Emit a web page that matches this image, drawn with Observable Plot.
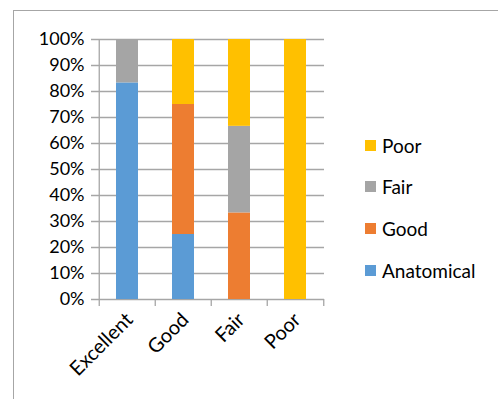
<!DOCTYPE html>
<html>
<head>
<meta charset="utf-8">
<script src="https://cdn.jsdelivr.net/npm/d3@7"></script>
<script src="https://cdn.jsdelivr.net/npm/@observablehq/plot@0.6"></script>
<style>
  html, body { margin: 0; padding: 0; background: #fff; }
  #chart { position: relative; width: 498px; height: 399px; overflow: hidden; font-family: Lato, "Open Sans", sans-serif; }
  #chart .frame { position: absolute; left: 13px; top: 10px; right: -5px; bottom: -5px; border-top: 1.5px solid #a6a6a6; border-left: 1.5px solid #a6a6a6; }
  #chart svg { position: absolute; left: 0; top: 0; }
  #legend { position: absolute; left: 365px; top: 133px; }
  #legend .item { display: flex; align-items: center; height: 24px; margin-bottom: 17.7px; font-size: 19px; color: #000; }
  #legend .swatch { width: 11px; height: 11px; margin-right: 6px; }
</style>
</head>
<body>
<div id="chart"><div class="frame"></div></div>
<script>
// Outcome grades along the x axis
const grades = ["Excellent", "Good", "Fair", "Poor"];
// Share of each result within a grade (stacked to 100%)
const anatomical = [0.833, 0.25, 0, 0];
const good = [0, 0.5, 0.333, 0];
const fair = [0.167, 0, 0.333, 0];
const poor = [0, 0.25, 0.334, 1];
// Series names, bottom to top in each stack
const seriesNames = ["Anatomical", "Good", "Fair", "Poor"];
const seriesColors = ["#5B9BD5", "#ED7D31", "#A5A5A5", "#FFC000"];
// Y axis ticks
const yTicks = [0, 0.1, 0.2, 0.3, 0.4, 0.5, 0.6, 0.7, 0.8, 0.9, 1];

const seriesValues = [anatomical, good, fair, poor];
const rows = [];
seriesNames.forEach((s, i) => {
  grades.forEach((g, j) => rows.push({grade: g, series: s, value: seriesValues[i][j]}));
});

const W = 498, H = 399;
const mLeft = 98, mRight = 174, mTop = 39, mBottom = 100;
const plotW = W - mLeft - mRight;
const plotH = H - mTop - mBottom;
const step = plotW / grades.length;
const axisColor = "#a6a6a6";

const chart = Plot.plot({
  width: W,
  height: H,
  marginLeft: mLeft,
  marginRight: mRight,
  marginTop: mTop,
  marginBottom: mBottom,
  style: {fontFamily: "Lato, 'Open Sans', sans-serif", fontSize: "18px", color: "#000", background: "transparent", overflow: "visible"},
  x: {domain: grades, paddingInner: 0.6, paddingOuter: 0.3},
  y: {domain: [0, 1]},
  color: {domain: seriesNames, range: seriesColors},
  marks: [
    // horizontal gridlines, extended left to form the y-axis tick marks
    Plot.ruleY(yTicks, {y: d => d, stroke: axisColor, strokeWidth: 1.3, insetLeft: -7}),
    // vertical axis line
    Plot.ruleX([grades[0]], {x: d => d, stroke: axisColor, strokeWidth: 1.3, dx: -step / 2}),
    // category boundary ticks below the x axis
    Plot.ruleX(grades, {x: d => d, stroke: axisColor, strokeWidth: 1.3, dx: -step / 2, insetTop: plotH, insetBottom: -7}),
    Plot.ruleX([grades[grades.length - 1]], {x: d => d, stroke: axisColor, strokeWidth: 1.3, dx: step / 2, insetTop: plotH, insetBottom: -7}),
    Plot.barY(rows, Plot.stackY({order: seriesNames}, {x: "grade", y: "value", fill: "series"})),
    Plot.axisY(yTicks, {tickFormat: d3.format(".0%"), tickSize: 0, tickPadding: 14, fontSize: 18, fill: "#000", label: null}),
    Plot.axisX({tickSize: 0, tickRotate: -45, tickPadding: 17, fontSize: 20, fill: "#000", label: null, dx: 2})
  ]
});
document.getElementById("chart").appendChild(chart);

// Legend: top item is the top of the stack
const legend = document.createElement("div");
legend.id = "legend";
seriesNames.slice().reverse().forEach((name) => {
  const item = document.createElement("div");
  item.className = "item";
  const sw = document.createElement("div");
  sw.className = "swatch";
  sw.style.background = seriesColors[seriesNames.indexOf(name)];
  const label = document.createElement("span");
  label.textContent = name;
  item.appendChild(sw);
  item.appendChild(label);
  legend.appendChild(item);
});
document.getElementById("chart").appendChild(legend);
</script>
</body>
</html>
